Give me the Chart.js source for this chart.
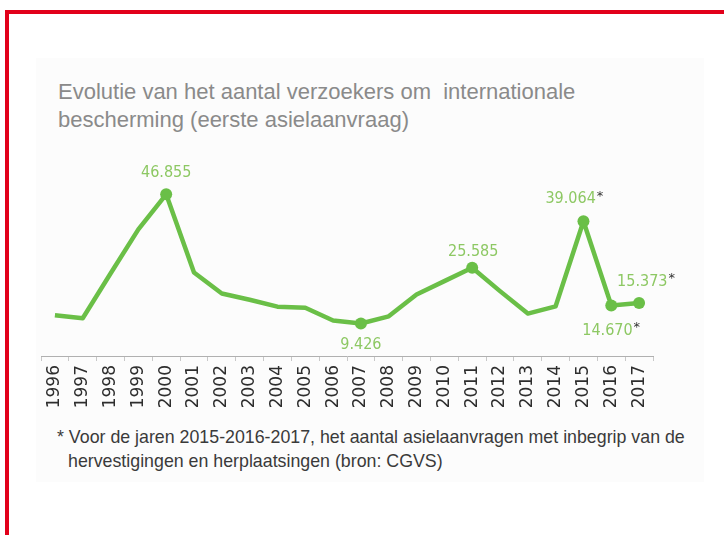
<!DOCTYPE html>
<html>
<head>
<meta charset="utf-8">
<script src="https://cdn.jsdelivr.net/npm/chart.js@4.4.1/dist/chart.umd.min.js"></script>
<style>
  body { margin: 0; background: #fff; }
  #wrap { position: relative; width: 724px; height: 535px; overflow: hidden; }
  .frameTop { position: absolute; left: 5px; top: 10px; right: 0; height: 4px; background: #e2001a; }
  .frameLeft { position: absolute; left: 5px; top: 10px; width: 4px; bottom: 0; background: #e2001a; }
  .panel { position: absolute; left: 36px; top: 58px; width: 668px; height: 424px; background: #fcfcfc; }
  #title { position: absolute; left: 58px; top: 78px; font: 22px "Liberation Sans Narrow", "Liberation Sans", sans-serif; line-height: 28px; color: #8a8a8a; }
  #note { position: absolute; left: 57px; top: 425px; white-space: nowrap; font: 17.8px "Liberation Sans Narrow", "Liberation Sans", sans-serif; line-height: 24px; color: #3a3a3a; padding-left: 11px; text-indent: -11px; }
  canvas { position: absolute; left: 0; top: 0; }
</style>
</head>
<body>
<div id="wrap">
  <div class="panel"></div>
  <div class="frameTop"></div>
  <div class="frameLeft"></div>
  <div id="title">Evolutie van het aantal verzoekers om&nbsp; internationale<br>bescherming (eerste asielaanvraag)</div>
  <div id="note">* Voor de jaren 2015-2016-2017, het aantal asielaanvragen met inbegrip van de<br>hervestigingen en herplaatsingen (bron: CGVS)</div>
  <canvas id="myChart" width="724" height="535"></canvas>
</div>
<script>
// years on the x axis
const years = ['1996','1997','1998','1999','2000','2001','2002','2003','2004','2005','2006',
               '2007','2008','2009','2010','2011','2012','2013','2014','2015','2016','2017'];
// first asylum requests per year (exact where labelled)
const requests = [11800, 10950, 23900, 36700, 46855, 24200, 18100, 16300, 14300, 14000, 10300,
                  9426, 11500, 17800, 21700, 25585, 18800, 12300, 14400, 39064, 14670, 15373];
// years that get a dot and a value label
const labelled = ['2000','2007','2011','2015','2016','2017'];
// years with the footnote star
const starred = ['2015','2016','2017'];

const green = '#6abf47';
const labelGreen = '#8dc863';

function fmt(n) {
  return String(n).replace(/\B(?=(\d{3})+(?!\d))/g, '.');
}

// where each value label sits, relative to its dot
const placement = {
  '2000': { dx: 0, dy: -22, align: 'center' },
  '2007': { dx: 0, dy: 21, align: 'center' },
  '2011': { dx: 1, dy: -16, align: 'center' },
  '2015': { dx: -38, dy: -22, align: 'left' },
  '2016': { dx: -29, dy: 25, align: 'left' },
  '2017': { dx: -22, dy: -21, align: 'left' }
};

const valueLabels = {
  id: 'valueLabels',
  afterDatasetsDraw(chart) {
    const ctx = chart.ctx;
    const meta = chart.getDatasetMeta(0);
    ctx.save();
    ctx.textBaseline = 'middle';
    labelled.forEach(y => {
      const i = years.indexOf(y);
      const pt = meta.data[i];
      const p = placement[y];
      const txt = fmt(requests[i]);
      ctx.font = '16px "DejaVu Sans Condensed", "DejaVu Sans", sans-serif';
      const w = ctx.measureText(txt).width;
      let x = pt.x + p.dx;
      if (p.align === 'center') x -= w / 2;
      ctx.textAlign = 'left';
      ctx.fillStyle = labelGreen;
      ctx.fillText(txt, x, pt.y + p.dy);
      if (starred.includes(y)) {
        ctx.font = '13px "DejaVu Sans", sans-serif';
        ctx.fillStyle = '#333';
        ctx.fillText('*', x + w + 1, pt.y + p.dy - 3);
      }
    });
    ctx.restore();
  }
};

const data = {
  labels: years,
  datasets: [{
    data: requests,
    borderColor: green,
    backgroundColor: green,
    borderWidth: 4.5,
    tension: 0,
    borderJoinStyle: 'round',
    pointRadius: years.map(y => labelled.includes(y) ? 6 : 0),
    pointBackgroundColor: green,
    pointBorderWidth: 0,
    clip: false
  }]
};

const config = {
  type: 'line',
  data: data,
  options: {
    responsive: false,
    animation: false,
    layout: { padding: { left: 41, right: 71, top: 149, bottom: 119 } },
    plugins: { legend: { display: false }, tooltip: { enabled: false } },
    scales: {
      x: {
        offset: true,
        grid: { display: true, drawOnChartArea: false, offset: true, tickLength: 5, color: '#c8c8c8' },
        border: { display: true, color: '#b0b0b0', width: 1 },
        ticks: {
          minRotation: 90, maxRotation: 90, padding: 4, autoSkip: false,
          color: '#2e2e2e',
          font: { family: 'DejaVu Sans', size: 17 }
        },
        afterFit(scale) { scale.height = 60; }
      },
      y: { display: false, min: 0, max: 60000 }
    }
  },
  plugins: [valueLabels]
};

const myChart = new Chart(document.getElementById('myChart'), config);
</script>
</body>
</html>
